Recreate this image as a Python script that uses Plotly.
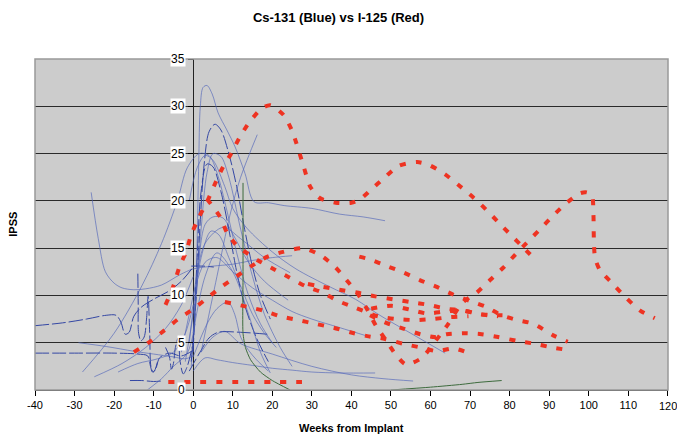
import plotly.graph_objects as go

# ---- I-125 patients (red, heavy dashed) ----
i125_1_x = [-7, -5, -3.5, -1.8, -0.5, 1.5, 3.5, 5.4, 7.3, 9.6, 11.6, 14, 17.4, 19.5, 22.8, 25, 27.8, 29.6, 32, 36, 40, 42, 45, 48.5, 52, 56.6, 59.6, 63.7, 67, 70.7, 74, 77, 80.3, 83.4, 86.7]
i125_1_y = [9, 11, 13, 14.6, 16.4, 18.3, 19.9, 21.7, 23.4, 25, 26.6, 28.2, 29.8, 30.1, 29.1, 27.4, 23.8, 21.5, 20.3, 19.8, 19.8, 20.1, 21.2, 22.5, 23.7, 24.1, 23.8, 22.8, 21.7, 20.4, 19.1, 17.8, 16.4, 15.1, 13.7]

i125_2_x = [-15, -11, -7.3, -3.8, -0.2, 3.8, 7.1, 10.9, 14.7, 18.8, 22.7, 27.6, 32, 35.9, 38.8, 41.4, 43.9, 46.2, 48.5, 51.3, 53.8, 57.8, 61.3, 64.5, 68, 71.7, 75, 78.3, 81.4, 84.4, 87.7, 90.9, 94.2, 97.8, 99.5, 100.8, 101.2, 101.3, 101.6, 102.8, 105.9, 109.1, 113, 116.7]
i125_2_y = [4.0, 5.1, 6.3, 7.5, 8.5, 9.8, 10.9, 12, 13.1, 14.1, 14.6, 15, 14.3, 13, 11.6, 10.3, 8.6, 6.8, 5.4, 3.7, 2.7, 3.4, 5.2, 7.0, 9.2, 10.3, 11.6, 12.9, 14.3, 15.6, 17, 18.4, 19.7, 20.8, 20.9, 20.6, 18.5, 16, 14, 12.7, 11.3, 9.9, 8.4, 7.6]

i125_3_x = [-6.3, 0, 10, 20, 29.5]
i125_3_y = [0.85, 0.85, 0.85, 0.85, 0.85]

i125_4_x = [8, 13.6, 17.7, 22, 26.5, 30.8, 35.4, 39.7, 44, 48.5, 53, 57.4, 61.7, 65.8, 69.7]
i125_4_y = [9.3, 8.8, 8.4, 7.8, 7.4, 7.0, 6.6, 6.1, 5.7, 5.4, 4.9, 4.5, 4.1, 4.4, 3.9]

i125_5_x = [3.5, 6.8, 8.6, 11.4, 12.8, 16.4, 20.3, 24.3, 28.3, 32.7, 36.7, 41, 46.7, 51.5, 56.1, 60.6, 64.9, 69.6]
i125_5_y = [20.2, 18.3, 16.6, 15.1, 14.7, 13.7, 12.8, 11.9, 11.0, 10.3, 9.4, 8.7, 7.8, 7.5, 7.4, 7.5, 7.7, 7.8]

i125_6_x = [42, 44.7, 49, 53.3, 57.4, 61.6, 65.7, 70, 74, 78, 81.9, 86, 90.9, 94.7]
i125_6_y = [14.1, 13.8, 13.1, 12.4, 11.6, 10.9, 10.1, 9.4, 8.8, 7.9, 7.4, 7.0, 5.8, 5.1]

i125_7_x = [29, 32.8, 36.9, 41.4, 46, 50.4, 55, 59.5, 63.9, 68.3, 72.7, 77.1]
i125_7_y = [11.2, 10.9, 10.6, 10.3, 9.9, 9.6, 9.3, 9.0, 8.6, 8.4, 8.0, 7.8]

i125_8_x = [45, 50.2, 54.7, 59, 63.7, 68.3, 72.7, 78.2]
i125_8_y = [8.6, 8.9, 8.5, 8.1, 8.3, 8.4, 8.0, 7.9]

i125_9_x = [44.7, 48.8, 53.1, 57.4, 61, 64.1, 68.7, 72.9, 77.1, 81.8, 86.2, 90.7, 95.2]
i125_9_y = [7.9, 7.1, 6.5, 5.9, 5.6, 5.9, 6.0, 5.9, 5.6, 5.2, 4.9, 4.5, 4.2]

red_series = [
    (i125_1_x, i125_1_y), (i125_2_x, i125_2_y), (i125_3_x, i125_3_y),
    (i125_4_x, i125_4_y), (i125_5_x, i125_5_y), (i125_6_x, i125_6_y),
    (i125_7_x, i125_7_y), (i125_8_x, i125_8_y), (i125_9_x, i125_9_y),
]

# ---- Cs-131 patients (blue, thin) ----
cs_01_x = [-0.5, 0.5, 1.0, 1.4, 1.8, 2.5, 3.5, 4.8, 6.3, 8.5, 10.6, 13.1, 15.4, 19, 23, 30, 37, 43, 48.5]
cs_01_y = [2.5, 8, 16, 24, 30, 32, 32.2, 31.3, 29.3, 27.5, 25.7, 22.9, 19.9, 19.8, 19.5, 19.2, 18.6, 18.3, 17.9]
cs_02_x = [-0.5, 0.8, 1.8, 2.8, 4, 5.5, 7, 9, 11, 13, 15, 17, 19.5]
cs_02_y = [3, 10, 18, 24, 27.3, 28.1, 27.5, 25, 21.5, 17, 13, 10, 7.5]
cs_03_x = [-28, -20, -13, -8, -4, -1.5, 1.5, 4, 6, 8.5, 11, 14, 17, 20]
cs_03_y = [1.9, 6, 11, 15.5, 20, 23.5, 25, 24.8, 23, 19, 14.5, 10, 7, 5]
cs_04_x = [-25.8, -24, -22.2, -20, -18, -15, -12, -8, -3.3, 0, 5, 10, 15, 20, 25]
cs_04_y = [20.9, 16, 12.5, 11.3, 10.8, 10.6, 10.7, 11.1, 12.2, 12.8, 13.1, 13.3, 13.7, 14, 14.2]
cs_05_x = [-40, -33, -27, -22, -19.5, -18.3, -17.2, -16.2, -15, -13, -10, -6, -3, 0]
cs_05_y = [6.8, 7.1, 7.5, 7.9, 7.9, 7.2, 5.9, 6.1, 7.8, 8.8, 9.6, 10.5, 11.5, 13]
cs_06_x = [-14, -13.9, -13.8, -13.2, -12.4, -11.8, -11.4, -11.0, -10.6, -10, -9]
cs_06_y = [12.3, 9, 6, 5.2, 5.6, 7.5, 9.9, 6, 2.3, 1.9, 3]
cs_07_x = [-40, -30, -20, -14, -11.5, -10.8, -10.3, -9.5, -8.5, -6, -3, 0]
cs_07_y = [3.9, 3.9, 3.9, 3.8, 3.6, 2.5, 1.9, 2.2, 3.4, 3.9, 3.6, 4.2]
cs_08_x = [-29, -22, -15, -10, -5, -2, 0]
cs_08_y = [5.0, 4.6, 4.1, 3.8, 3.5, 3.3, 3.6]
cs_09_x = [-16, -13, -10, -8]
cs_09_y = [1.0, 1.0, 0.9, 0.95]
cs_10_x = [-25, -18, -12, -7, -3, 0]
cs_10_y = [1.4, 2.8, 4.5, 6.5, 9, 12]
cs_11_x = [-19, -14, -9, -5, -2, 0]
cs_11_y = [1.9, 2.8, 3.3, 4, 6, 9]
cs_12_x = [-11.6, -8, -5, -1.5, 0.5]
cs_12_y = [0, 1.2, 2.5, 3.9, 7]
cs_13_x = [-1, 1, 3, 5, 8, 10, 13.6, 20, 26, 34.6, 41, 47.2, 55, 63.7]
cs_13_y = [20, 23.5, 24.8, 24.3, 21.5, 19.2, 17.1, 14.6, 12.8, 10.9, 9.6, 7.9, 6, 3.9]
cs_14_x = [0, 3, 6, 10, 15, 20, 25, 30, 37, 44]
cs_14_y = [10, 13.5, 14, 12.5, 10.8, 9.5, 8.3, 7.5, 6.6, 5.7]
cs_15_x = [0, 3, 6, 10, 15, 20, 25, 30, 37, 46]
cs_15_y = [2, 3.4, 3.2, 2.9, 2.6, 2.3, 2.1, 1.9, 1.8, 1.8]
cs_16_x = [2, 5, 8, 12, 20, 30, 40, 48, 55.6]
cs_16_y = [4, 5.6, 6.2, 4.9, 3.8, 2.5, 1.6, 1.2, 0.95]
cs_17_x = [-1, 2, 4, 6.3, 12, 18.7]
cs_17_y = [2, 4.2, 5.5, 6.1, 6.1, 5.9]
cs_18_x = [-0.5, 2.5, 5.2]
cs_18_y = [13.1, 13.1, 13.0]
cs_19_x = [0, 3.5, 6, 8.8, 10.5, 12, 14, 16, 19]
cs_19_y = [3.5, 7, 8.6, 9.3, 8, 5.6, 4.2, 3.2, 2]
cs_20_x = [-2, 0, 2, 4.5, 6.5, 9, 12, 15, 18, 21]
cs_20_y = [3, 8, 14, 16.8, 16.4, 14, 11, 8, 6, 4.5]
cs_21_x = [-1, 1, 3, 5, 7.5, 10, 14, 18, 24]
cs_21_y = [5, 12, 17.5, 18.3, 18.2, 16.5, 13.5, 11.5, 9.5]
cs_22_x = [2, 6, 9.3, 12, 16.2]
cs_22_y = [4, 12, 18.5, 22.5, 27]
cs_23_x = [0, 1, 2, 3.5, 5, 7, 9, 11, 13, 16, 19]
cs_23_y = [4, 14, 21, 23.9, 23.6, 21, 17, 12.5, 9, 5.5, 3]
cs_24_x = [0, 2, 3.5, 5, 7, 9, 12, 15, 18, 22, 25]
cs_24_y = [6, 17, 23, 25, 24.7, 22.5, 17, 12, 8, 4.5, 2.5]
cs_25_x = [-3, 0, 3, 7.6, 12, 18, 24.5]
cs_25_y = [4, 10, 15.5, 17.2, 16, 14, 12.4]
cs_26_x = [0, 3, 6, 10, 14, 17, 19.5]
cs_26_y = [6, 12, 14.5, 12.5, 8, 4, 1.8]
cs_27_x = [-7, -6, -5.5, -5, -4.5, -3.8, -3.3, -2.5, -1.5, 0]
cs_27_y = [4.5, 3.5, 2.2, 2.8, 4.5, 5.5, 3, 1.7, 2.5, 5]

# (x, y, dark) — dark traces are drawn with long dashes
blue_series = [
    (cs_01_x, cs_01_y, False), (cs_02_x, cs_02_y, True), (cs_03_x, cs_03_y, False),
    (cs_04_x, cs_04_y, False), (cs_05_x, cs_05_y, True), (cs_06_x, cs_06_y, True),
    (cs_07_x, cs_07_y, True), (cs_08_x, cs_08_y, False), (cs_09_x, cs_09_y, True),
    (cs_10_x, cs_10_y, False), (cs_11_x, cs_11_y, False), (cs_12_x, cs_12_y, False),
    (cs_13_x, cs_13_y, False), (cs_14_x, cs_14_y, False), (cs_15_x, cs_15_y, False),
    (cs_16_x, cs_16_y, False), (cs_17_x, cs_17_y, True), (cs_18_x, cs_18_y, True),
    (cs_19_x, cs_19_y, False), (cs_20_x, cs_20_y, False), (cs_21_x, cs_21_y, False),
    (cs_22_x, cs_22_y, False), (cs_23_x, cs_23_y, True), (cs_24_x, cs_24_y, False),
    (cs_25_x, cs_25_y, False), (cs_26_x, cs_26_y, False), (cs_27_x, cs_27_y, True),
]

# one Cs-131 patient drawn in green
green_a_x = [12.6, 12.6, 12.6, 13.2, 14.5, 17, 20, 24.5]
green_a_y = [21.9, 12, 6, 4.5, 3.2, 1.9, 1.0, 0]
green_b_x = [50, 60, 68, 72, 78]
green_b_y = [0, 0.3, 0.6, 0.8, 1.0]

x_ticks = [-40, -30, -20, -10, 0, 10, 20, 30, 40, 50, 60, 70, 80, 90, 100, 110, 120]
x_tick_labels = ["-40", "-30", "-20", "-10", "0", "10", "20", "30", "40", "50", "60", "70", "80", "90", "100", "110", "120"]
y_ticks = [0, 5, 10, 15, 20, 25, 30, 35]

FONT = "Liberation Sans, Arial, sans-serif"

fig = go.Figure()

for xs, ys, dark in blue_series:
    fig.add_trace(go.Scatter(
        x=xs, y=ys, mode="lines",
        line=dict(color="#3447a4" if dark else "rgba(80,100,185,0.72)",
                  width=1.0 if dark else 0.9,
                  dash="14px,3px" if dark else "solid",
                  shape="spline", smoothing=0.9),
        hoverinfo="skip", showlegend=False))

for gx, gy in [(green_a_x, green_a_y), (green_b_x, green_b_y)]:
    fig.add_trace(go.Scatter(
        x=gx, y=gy, mode="lines",
        line=dict(color="#3d6b3d", width=1, shape="spline", smoothing=0.6),
        hoverinfo="skip", showlegend=False))

for xs, ys in red_series:
    fig.add_trace(go.Scatter(
        x=xs, y=ys, mode="lines",
        line=dict(color="#ee3322", width=4, dash="6px,10px",
                  shape="spline", smoothing=0.7),
        hoverinfo="skip", showlegend=False))

# y-axis labels sit on white boxes beside the axis drawn at x = 0
annotations = [
    dict(x=0, y=v, xref="x", yref="y", text=str(v), showarrow=False,
         xanchor="right", yanchor="middle", xshift=-7, bgcolor="white",
         borderpad=0, font=dict(family=FONT, size=12, color="black"))
    for v in y_ticks
]
# the last x tick label runs past the right edge of the page, so it is
# written as an annotation and left blank on the axis itself
annotations.append(
    dict(x=x_ticks[-1], y=0, xref="x", yref="y", text=x_tick_labels[-1], showarrow=False,
         xanchor="center", yanchor="middle", yshift=-16,
         font=dict(family=FONT, size=11, color="black")))
axis_tick_text = x_tick_labels[:-1] + [""]

annotations += [
    dict(x=0.5, y=-0.115, xref="paper", yref="paper", text="<b>Weeks from Implant</b>",
         showarrow=False, xanchor="center", yanchor="middle",
         font=dict(family=FONT, size=11, color="black")),
    dict(x=-0.036, y=0.5, xref="paper", yref="paper", text="<b>IPSS</b>",
         showarrow=False, textangle=-90, xanchor="center", yanchor="middle",
         font=dict(family=FONT, size=11, color="black")),
]

fig.update_layout(
    width=677, height=437,
    margin=dict(l=35, r=9, t=59, b=47, autoexpand=False),
    paper_bgcolor="white", plot_bgcolor="#cccccc",
    title=dict(text="<b>Cs-131 (Blue) vs I-125 (Red)</b>", x=0.5, xanchor="center",
               y=1 - 17 / 437, yanchor="middle",
               font=dict(family=FONT, size=13, color="black")),
    font=dict(family=FONT, color="black"),
    annotations=annotations,
    xaxis=dict(range=[-40, 120.05], tickvals=x_ticks, ticktext=axis_tick_text,
               automargin=False,
               ticks="outside", ticklen=5, tickcolor="black",
               showgrid=False, zeroline=True, zerolinecolor="#222222", zerolinewidth=1.2,
               showline=True, linecolor="#333333", linewidth=1.2,
               tickfont=dict(family=FONT, size=11, color="black")),
    yaxis=dict(range=[0, 35], tickvals=y_ticks, showticklabels=False, automargin=False,
               anchor="free", position=0.25, ticks="outside", ticklen=5, tickcolor="black",
               showline=False, showgrid=True, gridcolor="#2a2a2a", gridwidth=1,
               zeroline=False),
    shapes=[dict(type="rect", xref="paper", yref="paper", x0=0, y0=0, x1=1, y1=1,
                 line=dict(color="#999999", width=1.5), fillcolor="rgba(0,0,0,0)",
                 layer="above")],
)

fig.write_html("out.html")
